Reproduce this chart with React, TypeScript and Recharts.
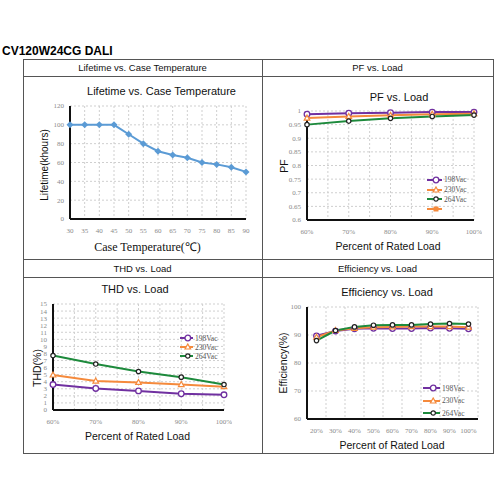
import React from "react";
import { CartesianGrid, Legend, Line, LineChart, XAxis, YAxis } from "recharts";

// lifetime vs case temperature
const caseTempC = [30, 35, 40, 45, 50, 55, 60, 65, 70, 75, 80, 85, 90];
const lifetimeKh = [100, 100, 100, 100, 90, 80, 72, 68, 65, 60, 58, 55, 50];
const lifetimeTicks = [0, 20, 40, 60, 80, 100, 120];

// PF / THD vs load
const loadPct = [60, 70, 80, 90, 100];
const loadGrid = [60, 65, 70, 75, 80, 85, 90, 95, 100];
const pf198 = [0.988, 0.992, 0.994, 0.996, 0.996];
const pf230 = [0.974, 0.98, 0.984, 0.988, 0.99];
const pf264 = [0.95, 0.963, 0.973, 0.98, 0.985];
const pfTicks = [0.6, 0.65, 0.7, 0.75, 0.8, 0.85, 0.9, 0.95, 1];

const thd198 = [3.6, 3.05, 2.7, 2.3, 2.15];
const thd230 = [4.95, 4.1, 3.9, 3.6, 3.3];
const thd264 = [7.7, 6.5, 5.45, 4.65, 3.6];
const thdTicks = [0, 1, 2, 3, 4, 5, 6, 7, 8, 9, 10, 11, 12, 13, 14, 15];

// efficiency vs load
const effLoadPct = [20, 30, 40, 50, 60, 70, 80, 90, 100];
const effGrid = [15, 25, 35, 45, 55, 65, 75, 85, 95, 105];
const eff198 = [89.7, 91.4, 92.2, 92.4, 92.3, 92.3, 92.5, 92.4, 92.2];
const eff230 = [89.2, 91.6, 92.4, 92.8, 92.9, 93.0, 93.0, 93.0, 92.8];
const eff264 = [88.0, 91.6, 92.9, 93.5, 93.6, 93.6, 93.9, 94.1, 93.9];
const effTicks = [60, 70, 80, 90, 100];

const PURPLE = "#7030a0";
const ORANGE = "#f58a3c";
const GREEN = "#1d8a3c";
const BLUE = "#5b9bd5";

const vacSeries = [
  { key: "v198", name: "198Vac", color: PURPLE, marker: "circle" },
  { key: "v230", name: "230Vac", color: ORANGE, marker: "triangle" },
  { key: "v264", name: "264Vac", color: GREEN, marker: "dot" },
];

const lifetimeData = caseTempC.map((t, i) => ({ x: t, life: lifetimeKh[i] }));
const pfData = loadPct.map((x, i) => ({ x, v198: pf198[i], v230: pf230[i], v264: pf264[i] }));
const thdData = loadPct.map((x, i) => ({ x, v198: thd198[i], v230: thd230[i], v264: thd264[i] }));
const effData = effLoadPct.map((x, i) => ({ x, v198: eff198[i], v230: eff230[i], v264: eff264[i] }));

function marker(kind: string, color: string, cx: number, cy: number, key?: any) {
  if (kind === "circle")
    return <circle key={key} cx={cx} cy={cy} r={2.8} fill="#fff" stroke={color} strokeWidth={1.3} />;
  if (kind === "triangle")
    return (
      <path
        key={key}
        d={`M${cx},${cy - 3} L${cx + 2.8},${cy + 2} L${cx - 2.8},${cy + 2} Z`}
        fill="#fff"
        stroke={color}
        strokeWidth={1.2}
      />
    );
  if (kind === "dot")
    return <circle key={key} cx={cx} cy={cy} r={2.2} fill="#fff" stroke="#222" strokeWidth={1.2} />;
  if (kind === "square")
    return <rect key={key} x={cx - 2.5} y={cy - 2.5} width={5} height={5} fill={color} />;
  if (kind === "diamond")
    return (
      <path
        key={key}
        d={`M${cx},${cy - 3.5} L${cx + 3.5},${cy} L${cx},${cy + 3.5} L${cx - 3.5},${cy} Z`}
        fill={color}
      />
    );
  return null;
}

const dotFor = (kind: string, color: string) => (p: any) =>
  p.cx == null || p.cy == null ? <g key={p.index} /> : marker(kind, color, p.cx, p.cy, p.index);

function LegendBox({ items, lineLen, rowH }: { items: any[]; lineLen: number; rowH: number }) {
  return (
    <div>
      {items.map((s) => (
        <div key={s.key} style={{ display: "flex", alignItems: "center", height: rowH }}>
          <svg width={lineLen} height={8}>
            <line x1={0} x2={lineLen} y1={4} y2={4} stroke={s.color} strokeWidth={2} />
            {marker(s.marker, s.color, lineLen * 0.6, 4)}
          </svg>
          <span style={{ fontSize: 7.5, color: "#555", marginLeft: 2, fontFamily: "Liberation Serif" }}>
            {s.name}
          </span>
        </div>
      ))}
    </div>
  );
}

const YW = 36;
const PT = 6;
const PR = 8;
const XH = 24;

const tickStyle = { fontSize: 7, fill: "#8a8a8a", fontFamily: "Liberation Serif" };
const axisStyle = { stroke: "#111", strokeWidth: 2 };

function Panel({
  plot,
  data,
  xDomain,
  xTicks,
  xFormat,
  xGrid,
  yDomain,
  yTicks,
  yFormat,
  series,
  legend,
}: any) {
  const left = plot.x - YW;
  const top = plot.y - PT;
  return (
    <div style={{ position: "absolute", left, top }}>
      <LineChart
        width={plot.w + YW + PR}
        height={plot.h + PT + XH}
        data={data}
        margin={{ top: PT, right: PR, left: 0, bottom: 0 }}
      >
        <CartesianGrid stroke="#cfcfcf" strokeDasharray="2 2" verticalValues={xGrid} />
        <XAxis
          dataKey="x"
          type="number"
          domain={xDomain}
          ticks={xTicks}
          interval={0}
          height={XH}
          tickLine={false}
          axisLine={axisStyle}
          tick={tickStyle}
          tickFormatter={xFormat}
          tickMargin={3}
        />
        <YAxis
          type="number"
          domain={yDomain}
          ticks={yTicks}
          interval={0}
          width={YW}
          tickLine={false}
          axisLine={axisStyle}
          tick={tickStyle}
          tickFormatter={yFormat}
          tickMargin={0}
        />
        {series.map((s: any) => (
          <Line
            key={s.key}
            dataKey={s.key}
            name={s.name}
            type="linear"
            stroke={s.color}
            strokeWidth={2}
            dot={dotFor(s.marker, s.color)}
            activeDot={false}
            isAnimationActive={false}
          />
        ))}
        {legend && (
          <Legend
            layout="vertical"
            align="center"
            verticalAlign="middle"
            wrapperStyle={{ left: legend.x - left, top: legend.y - top - legend.rowH / 2, width: "auto" }}
            content={() => <LegendBox items={legend.items} lineLen={legend.lineLen} rowH={legend.rowH} />}
          />
        )}
      </LineChart>
    </div>
  );
}

function Text({ x, y, text, size, rotate, font, bold, color }: any) {
  return (
    <div
      style={{
        position: "absolute",
        left: x,
        top: y,
        transform: `translate(-50%, -50%)${rotate ? " rotate(-90deg)" : ""}`,
        fontSize: size,
        fontFamily: font || "Liberation Sans, Arial, sans-serif",
        fontWeight: bold ? 700 : 400,
        color: color || "#111",
        whiteSpace: "nowrap",
        lineHeight: 1,
      }}
    >
      {text}
    </div>
  );
}

const line = (style: any) => <div style={{ position: "absolute", background: "#555", ...style }} />;

const pctFmt = (v: number) => (v % 10 === 0 ? `${v}%` : "");

export default function App() {
  return (
    <div
      style={{
        position: "absolute",
        left: 0,
        top: 0,
        width: 500,
        height: 500,
        background: "#fff",
        fontFamily: "Liberation Sans, Arial, sans-serif",
        overflow: "hidden",
      }}
    >
      <div
        style={{
          position: "absolute",
          left: 2,
          top: 45,
          fontSize: 12,
          fontWeight: 700,
          lineHeight: 1,
          color: "#000",
          whiteSpace: "nowrap",
        }}
      >
        CV120W24CG DALI
      </div>

      {/* table frame */}
      <div style={{ position: "absolute", left: 23, top: 59, width: 469, height: 393, border: "1px solid #555" }} />
      {line({ left: 262, top: 59, width: 1, height: 394 })}
      {line({ left: 23, top: 76, width: 470, height: 1 })}
      {line({ left: 23, top: 259, width: 470, height: 1 })}
      {line({ left: 23, top: 277, width: 470, height: 1 })}

      <Text x={142.5} y={68} size={9.5} text="Lifetime vs. Case Temperature" />
      <Text x={377.5} y={68} size={9.5} text="PF vs. Load" />
      <Text x={142.5} y={268.5} size={9.5} text="THD vs. Load" />
      <Text x={377.5} y={268.5} size={9.5} text="Efficiency vs. Load" />

      {/* Lifetime */}
      <Text x={161.5} y={91} size={11} text="Lifetime vs. Case Temperature" />
      <Text x={45} y={165} size={10} rotate text="Lifetime(khours)" />
      <Text x={147.5} y={247} size={12} font="Liberation Serif" text="Case Temperature(℃)" />
      <Panel
        plot={{ x: 70, y: 106, w: 176, h: 113 }}
        data={lifetimeData}
        xDomain={[30, 90]}
        xTicks={caseTempC}
        xGrid={caseTempC}
        yDomain={[0, 120]}
        yTicks={lifetimeTicks}
        series={[{ key: "life", name: "Lifetime", color: BLUE, marker: "diamond" }]}
      />

      {/* PF */}
      <Text x={399} y={97} size={11} text="PF vs. Load" />
      <Text x={284} y={166} size={10.5} rotate text="PF" />
      <Text x={388} y={246} size={10.5} text="Percent of Rated Load" />
      <Panel
        plot={{ x: 307, y: 111, w: 167, h: 109 }}
        data={pfData}
        xDomain={[60, 100]}
        xTicks={loadGrid}
        xFormat={pctFmt}
        xGrid={loadGrid}
        yDomain={[0.6, 1]}
        yTicks={pfTicks}
        yFormat={(v: number) => String(v)}
        series={[...vacSeries, { key: "blank", name: "", color: ORANGE, marker: "square" }]}
        legend={{
          x: 427,
          y: 180,
          rowH: 9.6,
          lineLen: 15,
          items: [...vacSeries, { key: "blank", name: "", color: ORANGE, marker: "square" }],
        }}
      />

      {/* THD */}
      <Text x={135} y={289} size={11} text="THD vs. Load" />
      <Text x={37} y={368} size={10.5} rotate text="THD(%)" />
      <Text x={137.5} y={436} size={10.5} text="Percent of Rated Load" />
      <Panel
        plot={{ x: 53, y: 304, w: 171, h: 106 }}
        data={thdData}
        xDomain={[60, 100]}
        xTicks={loadGrid}
        xFormat={pctFmt}
        xGrid={loadGrid}
        yDomain={[0, 15]}
        yTicks={thdTicks}
        series={vacSeries}
        legend={{ x: 180, y: 338, rowH: 9, lineLen: 13, items: vacSeries }}
      />

      {/* Efficiency */}
      <Text x={387} y={292} size={11} text="Efficiency vs. Load" />
      <Text x={283} y={363} size={10.5} rotate text="Efficiency(%)" />
      <Text x={392} y={445} size={10.5} text="Percent of Rated Load" />
      <Panel
        plot={{ x: 307, y: 307, w: 171, h: 112 }}
        data={effData}
        xDomain={[15, 105]}
        xTicks={effLoadPct}
        xFormat={(v: number) => `${v}%`}
        xGrid={effGrid}
        yDomain={[60, 100]}
        yTicks={effTicks}
        series={vacSeries}
        legend={{ x: 423, y: 388, rowH: 12.5, lineLen: 17, items: vacSeries }}
      />
    </div>
  );
}
